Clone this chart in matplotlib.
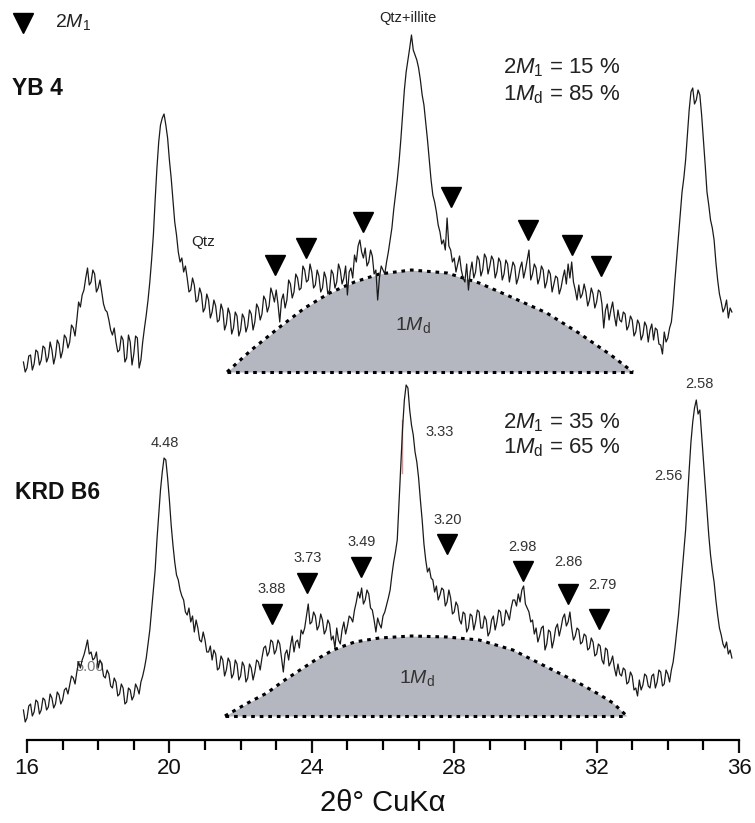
import numpy as np
import matplotlib
matplotlib.use("Agg")
import matplotlib.pyplot as plt

plt.rcParams['font.family'] = ['Liberation Sans', 'DejaVu Sans']
plt.rcParams['mathtext.fontset'] = 'custom'
plt.rcParams['mathtext.rm'] = 'Liberation Sans'
plt.rcParams['mathtext.it'] = 'Liberation Sans:italic'

# ---------------- data ----------------
two_theta_start = 15.9
two_theta_step = 0.05

yb4_counts = [
    378, 368, 372, 384, 385, 370, 376, 390, 388, 375, 380, 394, 392, 378, 383, 398, 390, 376, 384, 400,
    396, 382, 389, 405, 402, 392, 398, 415, 412, 404, 420, 438, 433, 445, 450, 462, 472, 455, 458, 470,
    466, 448, 452, 460, 448, 436, 430, 428, 420, 410, 405, 412, 398, 388, 390, 404, 400, 378, 382, 405,
    398, 375, 386, 404, 402, 372, 380, 398, 412, 425, 440, 458, 480, 505, 540, 572, 598, 615, 622, 626,
    615, 602, 580, 562, 540, 518, 505, 488, 478, 482, 468, 474, 462, 448, 450, 462, 455, 438, 440, 452,
    446, 428, 432, 446, 440, 422, 428, 440, 434, 418, 420, 436, 430, 410, 416, 432, 426, 406, 412, 428,
    424, 404, 410, 426, 422, 408, 414, 430, 426, 410, 418, 436, 432, 420, 426, 444, 440, 428, 434, 452,
    446, 438, 450, 436, 418, 440, 446, 432, 440, 460, 456, 442, 448, 466, 462, 450, 452, 474, 470, 458,
    460, 476, 468, 452, 455, 470, 464, 448, 452, 468, 462, 446, 450, 470, 466, 452, 458, 476, 470, 456,
    462, 474, 445, 468, 472, 462, 485, 478, 494, 500, 488, 482, 492, 474, 478, 490, 484, 466, 470, 440,
    462, 474, 470, 466, 478, 488, 500, 512, 530, 545, 560, 578, 600, 625, 650, 668, 680, 692, 705, 690,
    685, 680, 672, 660, 645, 635, 618, 600, 580, 560, 545, 538, 528, 515, 508, 496, 500, 490, 522, 494,
    490, 478, 482, 468, 476, 484, 470, 462, 458, 476, 450, 468, 478, 462, 468, 484, 480, 464, 470, 486,
    482, 466, 474, 484, 480, 462, 468, 482, 478, 460, 466, 480, 476, 458, 468, 478, 474, 456, 462, 472,
    478, 462, 470, 480, 490, 460, 466, 476, 472, 456, 462, 474, 470, 452, 458, 470, 466, 448, 456, 464,
    462, 446, 452, 462, 470, 456, 476, 462, 478, 458, 450, 440, 455, 442, 446, 456, 448, 434, 440, 452,
    446, 432, 438, 450, 448, 436, 412, 430, 436, 420, 430, 438, 424, 414, 430, 420, 418, 428, 426, 410,
    414, 424, 420, 404, 408, 420, 416, 400, 405, 418, 414, 398, 410, 416, 400, 412, 410, 396, 395, 386,
    408, 398, 402, 412, 418, 436, 460, 482, 505, 526, 548, 562, 580, 605, 630, 648, 652, 636, 640, 650,
    645, 625, 600, 575, 548, 535, 520, 512, 500, 478, 460, 446, 438, 428, 432, 440, 422, 432, 428,
]

krdb6_counts = [
    30, 18, 22, 34, 36, 24, 28, 40, 38, 26, 30, 42, 40, 30, 33, 46, 42, 32, 36, 48,
    45, 36, 40, 50, 52, 46, 55, 64, 62, 56, 68, 78, 72, 80, 85, 92, 100, 86, 88, 80,
    82, 88, 72, 80, 76, 64, 62, 70, 66, 54, 52, 62, 58, 44, 46, 56, 52, 36, 38, 52,
    50, 40, 44, 56, 52, 46, 58, 64, 72, 82, 96, 110, 130, 150, 170, 200, 225, 250, 268, 282,
    280, 262, 240, 215, 195, 178, 165, 160, 150, 144, 140, 128, 125, 132, 118, 124, 108, 120, 112, 100,
    98, 108, 100, 88, 88, 94, 80, 90, 86, 70, 72, 84, 80, 64, 70, 82, 78, 62, 66, 80,
    76, 60, 64, 78, 74, 58, 62, 76, 72, 60, 68, 80, 78, 70, 82, 92, 94, 84, 88, 100,
    98, 86, 90, 100, 96, 82, 68, 86, 90, 80, 94, 104, 88, 98, 100, 92, 110, 106, 112, 124,
    136, 116, 118, 128, 124, 110, 114, 126, 120, 106, 110, 120, 116, 100, 104, 92, 112, 100, 96, 110,
    118, 106, 114, 124, 122, 118, 130, 138, 148, 142, 152, 136, 140, 150, 146, 132, 130, 120, 108, 122,
    116, 112, 124, 128, 135, 142, 150, 165, 178, 188, 200, 238, 275, 312, 340, 355, 352, 330, 315, 305,
    288, 278, 262, 240, 220, 196, 180, 168, 172, 162, 160, 148, 154, 140, 145, 152, 150, 134, 138, 150,
    142, 126, 128, 138, 134, 120, 116, 128, 126, 108, 112, 126, 124, 110, 118, 130, 128, 112, 112, 124,
    120, 104, 108, 120, 124, 110, 118, 130, 128, 114, 116, 130, 126, 120, 132, 140, 140, 134, 146, 138,
    150, 154, 136, 132, 128, 118, 120, 106, 112, 98, 104, 112, 114, 90, 96, 110, 108, 92, 100, 112,
    116, 104, 112, 122, 126, 114, 118, 128, 112, 100, 104, 112, 110, 96, 98, 106, 104, 90, 92, 102,
    98, 84, 86, 96, 94, 80, 76, 92, 90, 74, 78, 84, 72, 64, 76, 66, 64, 72, 70, 56,
    58, 68, 64, 50, 52, 44, 60, 50, 55, 66, 64, 54, 52, 64, 66, 52, 58, 70, 68, 54,
    56, 70, 66, 58, 70, 78, 92, 108, 125, 146, 168, 188, 210, 240, 270, 298, 318, 332, 340, 326,
    330, 305, 280, 255, 230, 205, 185, 170, 158, 140, 125, 112, 105, 96, 92, 98, 86, 90, 82,
]

# 1Md broad hump outlines (2theta, intensity)
yb4_hump_x = [21.62, 22.3, 23.1, 23.8, 24.5, 25.2, 25.9, 26.8, 27.8, 28.7, 29.6, 30.6, 31.5, 32.4, 33.02]
yb4_hump_y = [368, 390, 413, 432, 447, 458, 466, 470, 467, 457, 443, 427, 407, 385, 368]
yb4_hump_base = 368

krd_hump_x = [21.56, 22.2, 22.74, 23.2, 23.67, 24.1, 24.6, 25.2, 25.9, 26.8, 27.8, 28.7, 29.65, 30.6, 31.5, 32.1, 32.46, 32.85]
krd_hump_y = [24, 37, 47, 59, 70, 80, 90, 98, 102, 104, 103, 100, 90, 73, 57, 45, 37, 24]
krd_hump_base = 24

# 2M1 reflection markers
yb4_tri_x = [22.97, 23.84, 25.44, 27.91, 30.07, 31.31, 32.12]
yb4_tri_y = [475, 492, 518, 543, 510, 495, 474]

krd_tri_x = [22.88, 23.87, 25.38, 27.80, 29.93, 31.20, 32.07]
krd_tri_y = [126, 157, 173, 196, 169, 146, 121]

# d-spacing labels (text, 2theta, intensity)
d_labels = ["4.48", "3.88", "3.73", "3.49", "3.33", "3.20", "2.98", "2.86", "2.79", "2.58", "2.56"]
d_label_x = [19.88, 22.88, 23.89, 25.41, 27.60, 27.83, 29.93, 31.20, 32.15, 34.90, 34.01]
d_label_y = [297, 151, 182, 198, 308, 220, 193, 178, 155, 356, 264]

x_ticks = [16, 20, 24, 28, 32, 36]

# ---------------- figure ----------------
fig = plt.figure(figsize=(7.55, 8.23), dpi=100)
ax = fig.add_axes([0, 0, 1, 1])
ax.set_xlim(15.242, 36.449)
ax.set_ylim(-83, 740)

hump_color = '#b4b7bf'
for hx, hy, hb in [(yb4_hump_x, yb4_hump_y, yb4_hump_base),
                   (krd_hump_x, krd_hump_y, krd_hump_base)]:
    ax.fill_between(hx, hb, hy, color=hump_color, lw=0, zorder=1)
    ax.plot(hx, hy, ls=(0, (1.2, 1.6)), color='black', lw=2.2, zorder=2)
    ax.plot([hx[0], hx[-1]], [hb, hb], ls=(0, (1.2, 1.6)), color='black', lw=2.2, zorder=2)

theta = two_theta_start + two_theta_step * np.arange(len(yb4_counts))
ax.plot(theta, yb4_counts, color='#1a1a1a', lw=0.9, zorder=3)
theta2 = two_theta_start + two_theta_step * np.arange(len(krdb6_counts))
ax.plot(theta2, krdb6_counts, color='#1a1a1a', lw=0.9, zorder=3)

ax.plot(yb4_tri_x, yb4_tri_y, 'v', color='black', ms=15, ls='none', zorder=4)
ax.plot(krd_tri_x, krd_tri_y, 'v', color='black', ms=15, ls='none', zorder=4)

for t, x, y in zip(d_labels, d_label_x, d_label_y):
    ax.text(x, y, t, ha='center', va='center', fontsize=10.5, color='#333333', zorder=5)
ax.text(17.77, 73, "5.00", ha='center', va='center', fontsize=10.5, color='#777777', zorder=2)

# faint red marker line
ax.plot([26.53, 26.53], [267, 320], color='#e09090', lw=1.0, zorder=2)

# annotations
ax.text(26.70, 722, "Qtz+illite", ha='center', va='center', fontsize=10.5, color='#222222')
ax.text(20.94, 498, "Qtz", ha='center', va='center', fontsize=11, color='#222222')
ax.text(26.84, 415, r"1$\mathit{M}_\mathrm{d}$", ha='center', va='center', fontsize=14, color='#333333', zorder=5)
ax.text(26.96, 62, r"1$\mathit{M}_\mathrm{d}$", ha='center', va='center', fontsize=14, color='#333333', zorder=5)

ax.text(15.58, 652, "YB 4", ha='left', va='center', fontsize=16.5, fontweight='bold', color='#111111')
ax.text(15.66, 248, "KRD B6", ha='left', va='center', fontsize=16.5, fontweight='bold', color='#111111')

ax.text(29.37, 672, r"2$\mathit{M}_1$ = 15 %", ha='left', va='center', fontsize=16, color='#222222')
ax.text(29.37, 645, r"1$\mathit{M}_\mathrm{d}$ = 85 %", ha='left', va='center', fontsize=16, color='#222222')
ax.text(29.37, 317, r"2$\mathit{M}_1$ = 35 %", ha='left', va='center', fontsize=16, color='#222222')
ax.text(29.37, 292, r"1$\mathit{M}_\mathrm{d}$ = 65 %", ha='left', va='center', fontsize=16, color='#222222')

# legend
ax.plot([15.89], [717], 'v', color='black', ms=15, clip_on=False)
ax.text(16.79, 718, r"2$\mathit{M}_1$", ha='left', va='center', fontsize=14, color='#222222')

# axis
for s in ['left', 'right', 'top']:
    ax.spines[s].set_visible(False)
ax.spines['bottom'].set_position(('data', 0))
ax.spines['bottom'].set_bounds(16, 36)
ax.spines['bottom'].set_linewidth(1.6)
ax.set_yticks([])
ax.set_xticks(x_ticks)
ax.set_xticklabels([str(t) for t in x_ticks])
ax.set_xticks(np.arange(16, 37, 1), minor=True)
ax.tick_params(axis='x', which='major', direction='out', length=9, width=1.6, labelsize=16, pad=4, colors='#111111')
ax.tick_params(axis='x', which='minor', direction='out', length=7, width=1.6)

ax.text(26.0, -63, "2θ° CuKα", ha='center', va='center', fontsize=21, color='#111111')

fig.savefig("out.png", dpi=100)
